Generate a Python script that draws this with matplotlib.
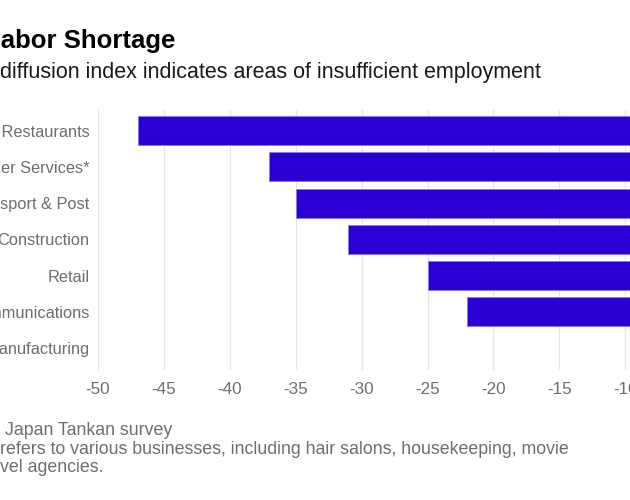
import matplotlib.pyplot as plt

plt.rcParams['font.family'] = ['Liberation Sans', 'DejaVu Sans']

# data (diffusion index, negative = shortage)
sectors = ['Hotels & Restaurants', 'Consumer Services*', 'Transport & Post',
           'Construction', 'Retail', 'Information & Communications',
           'Manufacturing']
di_values = [-47, -37, -35, -31, -25, -22, -8]
x_ticks = [-50, -45, -40, -35, -30, -25, -20, -15, -10, -5, 0]

bar_color = '#2a00d4'
grey = '#6e6e6e'

fig = plt.figure(figsize=(6.3, 5), dpi=100)
ax = fig.add_axes([98 / 630, 0.26, 659 / 630, 0.52])

pos = list(range(len(sectors)))
ax.barh(pos, di_values, height=0.8, color=bar_color,
        edgecolor='#8a78ee', linewidth=0.6, zorder=3)

ax.set_xlim(-50, 0)
ax.set_ylim(6.6, -0.57)
ax.set_xticks(x_ticks)
ax.set_xticklabels([str(t) for t in x_ticks])
ax.set_yticks(pos)
ax.set_yticklabels(sectors)
ax.tick_params(axis='both', length=0, labelcolor=grey)
ax.tick_params(axis='x', pad=9, labelsize=12.3)
ax.tick_params(axis='y', pad=6, labelsize=11.8)
ax.grid(axis='x', color='#e6e6ea', linewidth=0.9, zorder=0)
for s in ax.spines.values():
    s.set_visible(False)

# header
fig.text(-0.024, 1 - 48 / 500, 'Labor Shortage', fontsize=18.5, fontweight='bold',
         color='black', va='baseline')
fig.text(0.0, 1 - 78 / 500, 'diffusion index indicates areas of insufficient employment',
         fontsize=15.5, color='#1a1a1a', va='baseline')

# footnotes
fig.text(0.008, 1 - 435 / 500, 'Japan Tankan survey', fontsize=12.8, color=grey,
         va='baseline')
fig.text(0.0, 1 - 453.5 / 500,
         'refers to various businesses, including hair salons, housekeeping, movie',
         fontsize=12.8, color=grey, va='baseline')
fig.text(0.0, 1 - 472 / 500, 'vel agencies.', fontsize=12.8, color=grey, va='baseline')

fig.savefig('out.png', dpi=100)
